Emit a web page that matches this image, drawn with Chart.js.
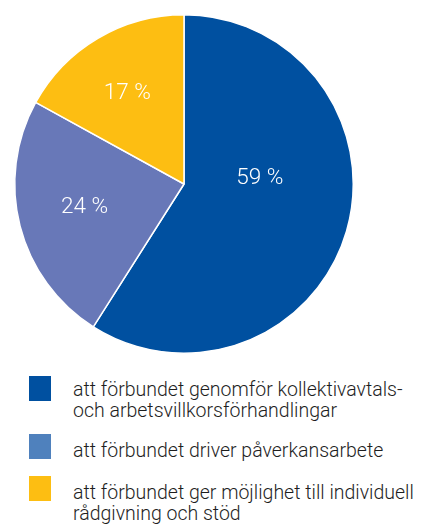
<!DOCTYPE html>
<html><head><meta charset="utf-8">
<script src="https://cdn.jsdelivr.net/npm/chart.js@4"></script>
<style>
html,body{margin:0;padding:0;background:#fff;}
#wrap{position:absolute;left:0;top:0;width:368px;height:368px;}
.sw{position:absolute;left:29px;width:22px;height:25px;}
.tx{position:absolute;left:73px;font-family:Roboto,"Liberation Sans",sans-serif;font-weight:300;font-size:19.5px;color:#1e1e1e;line-height:21.5px;white-space:nowrap;}
</style></head><body>
<div id="wrap"><canvas id="c" width="368" height="368"></canvas></div>
<div id="legend"></div>
<script>
const categories = [
  ["att förbundet genomför kollektivavtals-","och arbetsvillkorsförhandlingar"],
  ["att förbundet driver påverkansarbete"],
  ["att förbundet ger möjlighet till individuell","rådgivning och stöd"]
];
const values = [59, 24, 17];
const valueLabels = ["59 %", "24 %", "17 %"];
const sliceColors = ["#0050A0", "#6878B8", "#FDBE12"];
const legendColors = ["#0050A0", "#4F81BD", "#FDBE12"];

// label placement: angle offset (deg from slice middle) and distance from centre
const labelPlace = [{da:-20.5, r:76}, {da:1.4, r:102}, {da:-1.4, r:107}];

const labelPlugin = {
  id:'sliceLabels',
  afterDatasetsDraw(chart){
    const ctx = chart.ctx;
    const meta = chart.getDatasetMeta(0);
    ctx.save();
    ctx.fillStyle = '#ffffff';
    ctx.font = '300 22.5px Roboto, "Liberation Sans", sans-serif';
    ctx.textAlign = 'center';
    ctx.textBaseline = 'middle';
    meta.data.forEach((arc,i)=>{
      const p = arc.getProps(['x','y','startAngle','endAngle'], true);
      const mid = (p.startAngle + p.endAngle)/2 + labelPlace[i].da*Math.PI/180;
      const x = p.x + Math.cos(mid)*labelPlace[i].r;
      const y = p.y + Math.sin(mid)*labelPlace[i].r;
      ctx.fillText(valueLabels[i], x, y);
    });
    ctx.restore();
  }
};

new Chart(document.getElementById('c'), {
  type:'pie',
  data:{
    labels: categories.map(c=>c.join(' ')),
    datasets:[{data:values, backgroundColor:sliceColors, borderColor:'#ffffff', borderWidth:1.5}]
  },
  options:{
    responsive:false, animation:false,
    layout:{padding:14},
    plugins:{legend:{display:false}, tooltip:{enabled:false}}
  },
  plugins:[labelPlugin]
});

const swTops = [376, 434, 476];
const txTops = [378.5, 439.5, 481.5];
const legend = document.getElementById('legend');
categories.forEach((lines,i)=>{
  const s = document.createElement('div');
  s.className='sw';
  s.style.top = swTops[i]+'px';
  s.style.background = legendColors[i];
  legend.appendChild(s);
  const t = document.createElement('div');
  t.className='tx';
  t.style.top = txTops[i]+'px';
  t.innerHTML = lines.join('<br>');
  legend.appendChild(t);
});
</script>
</body></html>
